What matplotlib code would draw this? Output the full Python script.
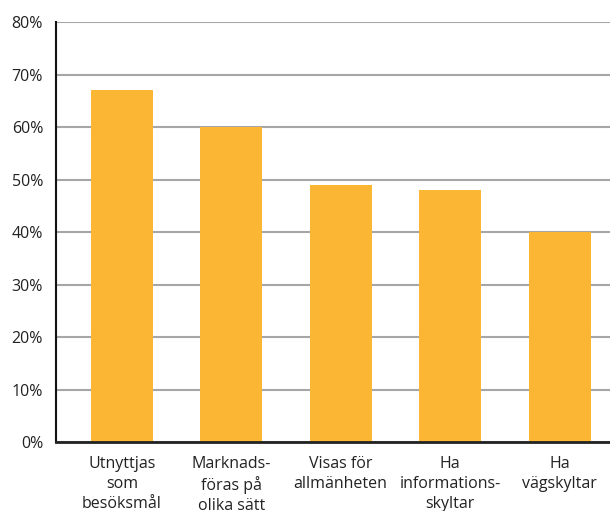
import matplotlib.pyplot as plt
import numpy as np

categories = [
    "Utnyttjas\nsom\nbesöksmål",
    "Marknads-\nföras på\nolika sätt",
    "Visas för\nallmänheten",
    "Ha\ninformations-\nskyltar",
    "Ha\nvägskyltar",
]
shares = [67, 60, 49, 48, 40]
yticks = [0, 10, 20, 30, 40, 50, 60, 70, 80]

plt.rcParams['font.family'] = ['Open Sans', 'DejaVu Sans']

fig = plt.figure(figsize=(6.10, 5.11), dpi=100)
ax = fig.add_axes([0.091, 0.135, 0.935, 0.8214])

x = np.arange(len(categories))
ax.bar(x, shares, width=0.566, color="#FBB734", zorder=2)

ax.set_ylim(0, 80)
ax.set_xlim(-0.606, len(categories) - 1 + 0.606)
ax.set_yticks(yticks)
ax.set_yticklabels([f"{v}%" for v in yticks])
ax.set_xticks(x)
ax.set_xticklabels(categories, linespacing=1.33)

ax.yaxis.grid(True, color="#A6A6A6", linewidth=1.5, zorder=0)
ax.set_axisbelow(True)
ax.tick_params(axis="both", length=0, labelsize=11.5, colors="#222222")
ax.tick_params(axis="y", pad=9)
ax.tick_params(axis="x", pad=10)

for side in ["top", "right"]:
    ax.spines[side].set_visible(False)
ax.spines["left"].set_linewidth(1.5)
ax.spines["left"].set_color("#111111")
ax.spines["bottom"].set_linewidth(2)
ax.spines["bottom"].set_color("#222222")

fig.savefig("out.png", dpi=100)
